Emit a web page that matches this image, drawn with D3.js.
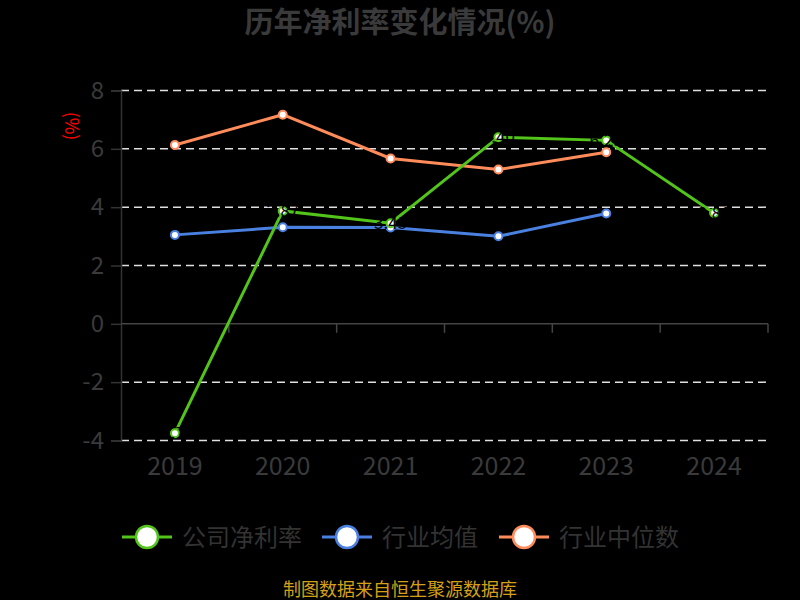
<!DOCTYPE html>
<html>
<head>
<meta charset="utf-8">
<script src="https://cdn.jsdelivr.net/npm/d3@7"></script>
<style>
  body { margin: 0; background: #000; }
  svg { display: block; font-family: "Noto Sans CJK SC", "Noto Sans", sans-serif; }
</style>
</head>
<body>
<svg id="chart" width="800" height="600"></svg>
<script>
// data
const years = ["2019", "2020", "2021", "2022", "2023", "2024"];
const company = [-3.75, 3.87, 3.45, 6.4, 6.29, 3.8];
const industryMean = [3.05, 3.31, 3.3, 3.0, 3.78, null];
const industryMedian = [6.13, 7.17, 5.67, 5.29, 5.88, null];
const yTicks = [-4, -2, 0, 2, 4, 6, 8];
const seriesNames = ["公司净利率", "行业均值", "行业中位数"];
const seriesColors = ["#52c41a", "#4a80e0", "#ff8c5a"];

const svg = d3.select("#chart");
svg.append("rect").attr("width", 800).attr("height", 600).attr("fill", "#000");

const margin = {left: 121, right: 32, top: 90.5, bottom: 159.5};
const x = d3.scaleBand().domain(years).range([margin.left, 800 - margin.right]);
const y = d3.scaleLinear().domain([-4, 8]).range([600 - margin.bottom, margin.top]);

// title
svg.append("text")
  .attr("x", 400).attr("y", 33)
  .attr("text-anchor", "middle")
  .style("font-size", "29px").style("font-weight", "bold")
  .attr("fill", "#3a3a3a")
  .text("历年净利率变化情况(%)");

// y unit
svg.append("text")
  .attr("transform", "translate(65,126) rotate(90)")
  .attr("text-anchor", "middle")
  .style("font-size", "18px")
  .attr("fill", "#ff0000")
  .text("(%)");

// grid lines
svg.append("g").selectAll("line")
  .data(yTicks.filter(d => d !== 0))
  .enter().append("line")
  .attr("x1", margin.left).attr("x2", 800 - margin.right)
  .attr("y1", d => y(d)).attr("y2", d => y(d))
  .attr("stroke", "#e0e0e0").attr("stroke-width", 1.5)
  .attr("stroke-dasharray", "8,5");

// y axis
const yAxis = svg.append("g")
  .attr("transform", `translate(${margin.left},0)`)
  .call(d3.axisLeft(y).tickValues(yTicks).tickSize(10).tickPadding(7)
    .tickFormat(d => String(d)));
yAxis.select(".domain").attr("stroke", "#333").attr("stroke-width", 1.5);
yAxis.selectAll(".tick line").attr("stroke", "#333").attr("stroke-width", 1.5);
yAxis.selectAll(".tick text").attr("fill", "#3a3a3a").style("font-size", "24px")
  .style("font-family", "\"Noto Sans CJK SC\", sans-serif");

// x axis along zero
const xAxis = svg.append("g")
  .attr("transform", `translate(0,${y(0)})`);
xAxis.append("line")
  .attr("x1", margin.left).attr("x2", 800 - margin.right)
  .attr("y1", 0).attr("y2", 0)
  .attr("stroke", "#444").attr("stroke-width", 1.5);
xAxis.selectAll(".xt")
  .data(years)
  .enter().append("line")
  .attr("class", "xt")
  .attr("x1", d => x(d) + x.bandwidth()).attr("x2", d => x(d) + x.bandwidth())
  .attr("y1", 0).attr("y2", 9)
  .attr("stroke", "#444").attr("stroke-width", 1.5);

svg.append("g").selectAll("text")
  .data(years)
  .enter().append("text")
  .attr("x", d => x(d) + x.bandwidth() / 2)
  .attr("y", y(-4) + 34)
  .attr("text-anchor", "middle")
  .style("font-size", "25px")
  .attr("fill", "#3a3a3a")
  .text(d => d);

// series
const allSeries = [company, industryMean, industryMedian];
const line = d3.line()
  .defined(d => d.v !== null)
  .x(d => x(d.year) + x.bandwidth() / 2)
  .y(d => y(d.v));

// draw order: mean, median, company on top
[1, 2, 0].forEach(i => {
  const pts = years.map((yr, j) => ({year: yr, v: allSeries[i][j]}));
  const g = svg.append("g");
  g.append("path")
    .attr("d", line(pts))
    .attr("fill", "none")
    .attr("stroke", seriesColors[i])
    .attr("stroke-width", 3);
  g.selectAll("circle")
    .data(pts.filter(d => d.v !== null))
    .enter().append("circle")
    .attr("cx", d => x(d.year) + x.bandwidth() / 2)
    .attr("cy", d => y(d.v))
    .attr("r", 4)
    .attr("fill", "#fff")
    .attr("stroke", seriesColors[i])
    .attr("stroke-width", 2);
  if (i === 0) {
    // value labels drawn in black, almost invisible on the dark background
    g.selectAll("text")
      .data(pts)
      .enter().append("text")
      .attr("x", d => x(d.year) + x.bandwidth() / 2)
      .attr("y", d => y(d.v) + 6)
      .attr("text-anchor", "middle")
      .style("font-size", "17px")
      .attr("fill", "#000")
      .text(d => d.v.toFixed(2));
  }
});

// legend
const legendX = [122, 322, 499];
const legend = svg.append("g").attr("transform", "translate(0,537)");
seriesNames.forEach((name, i) => {
  const item = legend.append("g").attr("transform", `translate(${legendX[i]},0)`);
  item.append("line")
    .attr("x1", 0).attr("x2", 50).attr("y1", 0).attr("y2", 0)
    .attr("stroke", seriesColors[i]).attr("stroke-width", 3);
  item.append("circle")
    .attr("cx", 25).attr("cy", 0).attr("r", 11)
    .attr("fill", "#fff")
    .attr("stroke", seriesColors[i]).attr("stroke-width", 2.5);
  item.append("text")
    .attr("x", 60).attr("y", 9)
    .style("font-size", "24px")
    .attr("fill", "#333")
    .text(name);
});

// source
svg.append("text")
  .attr("x", 400).attr("y", 596)
  .attr("text-anchor", "middle")
  .style("font-size", "18px")
  .attr("fill", "#d4a017")
  .text("制图数据来自恒生聚源数据库");
</script>
</body>
</html>
